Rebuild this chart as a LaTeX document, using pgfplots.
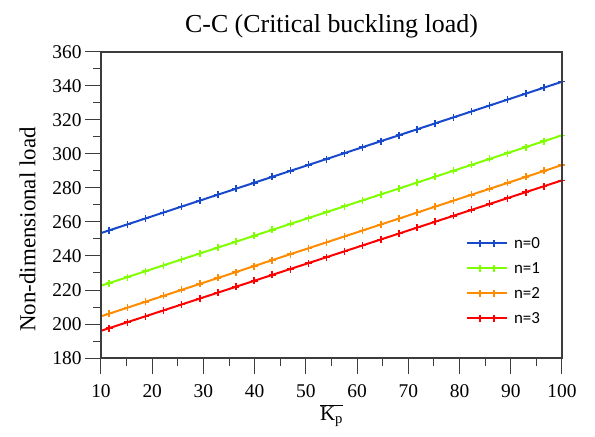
\documentclass[border=0pt]{standalone}
\usepackage{pgfplots}
\usepackage{pgfplotstable}
\pgfplotsset{compat=1.18}
\usepackage{fontspec}
\setmainfont{Liberation Serif}
\newfontfamily\legendfont{Carlito}

\definecolor{cblue}{RGB}{24,72,204}
\definecolor{cgreen}{RGB}{128,255,0}
\definecolor{corange}{RGB}{255,140,0}
\definecolor{cred}{RGB}{255,0,0}
\definecolor{axisgray}{RGB}{60,60,60}

% Critical buckling load vs. Pasternak shear parameter, n = 0..3
\pgfplotstableread{
x      n0      n1      n2      n3
10     253.50  222.50  204.50  196.00
11.60  255.08  224.07  206.08  197.57
15.14  258.58  227.55  209.58  201.05
18.67  262.07  231.03  213.07  204.53
22.21  265.57  234.51  216.57  208.01
25.74  269.07  237.98  220.07  211.48
29.28  272.57  241.46  223.57  214.96
32.82  276.07  244.94  227.07  218.44
36.35  279.56  248.41  230.56  221.91
39.89  283.06  251.89  234.06  225.39
43.42  286.55  255.36  237.55  228.86
46.96  290.05  258.84  241.05  232.34
50.50  293.55  262.32  244.55  235.82
54.03  297.04  265.79  248.04  239.29
57.57  300.54  269.28  251.54  242.78
61.10  304.03  272.75  255.03  246.25
64.64  307.53  276.23  258.53  249.73
68.18  311.03  279.71  262.03  253.21
71.71  314.53  283.18  265.53  256.68
75.25  318.03  286.66  269.03  260.16
78.78  321.52  290.13  272.52  263.63
82.32  325.02  293.61  276.02  267.11
85.86  328.52  297.09  279.52  270.59
89.39  332.01  300.56  283.01  274.06
92.93  335.51  304.05  286.51  277.55
96.46  339.00  307.52  290.00  281.02
100    342.50  311.00  293.50  284.50
}\loaddata

\begin{document}
\begin{tikzpicture}
\begin{axis}[
  scale only axis,
  width=461bp, height=306bp,
  xmin=10, xmax=100, ymin=180, ymax=360,
  xtick={10,20,...,100}, ytick={180,200,...,360},
  minor x tick num=1, minor y tick num=1,
  tick align=outside,
  xtick pos=bottom, ytick pos=left,
  major tick length=16bp, minor tick length=8bp,
  axis line style={axisgray, line width=1bp},
  every tick/.style={axisgray, line width=1bp},
  tick label style={font=\fontsize{19.5}{19.5}\selectfont},
  xticklabel style={yshift=-7bp},
  /pgf/number format/assume math mode=true,
  title={C-C (Critical buckling load)},
  title style={font=\fontsize{26}{26}\selectfont, yshift=4bp},
  xlabel={$\overline{\mbox{K\textsubscript{p}}}$},
  xlabel style={font=\fontsize{21}{21}\selectfont},
  ylabel={Non-dimensional load},
  ylabel style={font=\fontsize{23}{23}\selectfont, at={(ticklabel cs:0.42)}},
  ylabel shift=10bp,
  legend style={at={(rel axis cs:0.785,0.252)}, anchor=west, draw=none, fill=none,
    font=\legendfont\fontsize{17}{17}\selectfont, row sep=8.5bp},
  legend cell align=left,
  legend image code/.code={
    \draw[#1, mark=none] (0bp,0bp) -- (40bp,0bp);
    \draw[#1] plot[only marks] coordinates {(13bp,0bp) (13bp,0bp) (27bp,0bp)};
  },
  every axis plot/.append style={line width=2bp, mark=+, mark size=3.5bp,
    mark indices={2,...,27}, mark options={solid, line width=1.5bp}},
]
\addplot[cblue]   table[x=x, y=n0] {\loaddata};
\addplot[cgreen]  table[x=x, y=n1] {\loaddata};
\addplot[corange] table[x=x, y=n2] {\loaddata};
\addplot[cred]    table[x=x, y=n3] {\loaddata};
\legend{\hspace{4bp}n=0, \hspace{4bp}n=1, \hspace{4bp}n=2, \hspace{4bp}n=3}
\end{axis}
% full frame round the plot area
\draw[axisgray, line width=1.2bp] (current axis.south west) rectangle (current axis.north east);
\pgfresetboundingbox
\path (current axis.south west) ++(-101bp,-79bp) rectangle ++(595bp,437bp);
\end{tikzpicture}
\end{document}
